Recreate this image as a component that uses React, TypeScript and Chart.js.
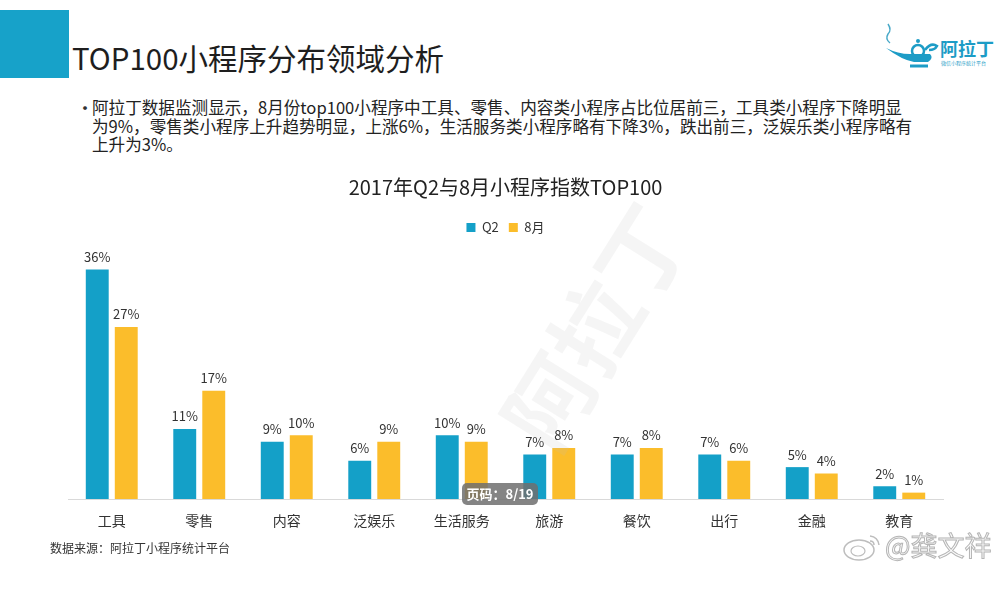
import React, { useEffect, useRef } from "react";
import { Chart, registerables } from "chart.js";

Chart.register(...registerables);

const categories = ["工具", "零售", "内容", "泛娱乐", "生活服务", "旅游", "餐饮", "出行", "金融", "教育"];
const q2Values = [36, 11, 9, 6, 10, 7, 7, 7, 5, 2];
const augValues = [27, 17, 10, 9, 9, 8, 8, 6, 4, 1];
const seriesNames = ["Q2", "8月"];
const chartTitle = "2017年Q2与8月小程序指数TOP100";
const pageTitle = "TOP100小程序分布领域分析";
const bulletLines = [
  "阿拉丁数据监测显示，8月份top100小程序中工具、零售、内容类小程序占比位居前三，工具类小程序下降明显",
  "为9%，零售类小程序上升趋势明显，上涨6%，生活服务类小程序略有下降3%，跌出前三，泛娱乐类小程序略有",
  "上升为3%。",
];
const sourceNote = "数据来源：阿拉丁小程序统计平台";

const BLUE = "#14a0c8";
const YELLOW = "#fbbd2b";
const FONT = '"Noto Sans CJK SC", "Noto Sans", sans-serif';

const valueLabels = {
  id: "valueLabels",
  afterDatasetsDraw(chart: any) {
    const ctx = chart.ctx;
    ctx.save();
    ctx.font = `13px ${FONT}`;
    ctx.fillStyle = "#333";
    ctx.textAlign = "center";
    ctx.textBaseline = "bottom";
    chart.data.datasets.forEach((ds: any, di: number) => {
      const meta = chart.getDatasetMeta(di);
      meta.data.forEach((bar: any, i: number) => {
        ctx.fillText(`${ds.data[i]}%`, bar.x, bar.y - 6);
      });
    });
    ctx.restore();
  },
};

export default function App() {
  const ref = useRef<HTMLCanvasElement>(null);
  useEffect(() => {
    const chart = new Chart(ref.current!, {
      type: "bar",
      data: {
        labels: categories,
        datasets: [
          { label: seriesNames[0], data: q2Values, backgroundColor: BLUE },
          { label: seriesNames[1], data: augValues, backgroundColor: YELLOW },
        ],
      },
      options: {
        animation: false,
        responsive: false,
        maintainAspectRatio: false,
        layout: { padding: { top: 160, left: 68, right: 57, bottom: 0 } },
        datasets: { bar: { categoryPercentage: 0.663, barPercentage: 0.79 } },
        plugins: {
          title: {
            display: true,
            text: chartTitle,
            color: "#222",
            font: { family: FONT, size: 20, weight: "normal" },
            padding: { top: 15, bottom: 12 },
          },
          legend: {
            display: true,
            labels: {
              boxWidth: 9,
              boxHeight: 9,
              padding: 10,
              color: "#333",
              font: { family: FONT, size: 13 },
            },
          },
          tooltip: { enabled: false },
        },
        scales: {
          x: {
            grid: { display: false },
            border: { display: true, color: "#d9d9d9", width: 1 },
            ticks: { color: "#333", font: { family: FONT, size: 14 }, padding: 5 },
            afterFit: (s: any) => {
              s.height = 101;
            },
          },
          y: { display: false, min: 0, max: 40 },
        },
      },
      plugins: [valueLabels],
    });
    return () => chart.destroy();
  }, []);

  return (
    <div
      style={{
        position: "absolute",
        left: 0,
        top: 0,
        width: 1000,
        height: 600,
        background: "#fff",
        overflow: "hidden",
        fontFamily: FONT,
      }}
    >
      <div style={{ position: "absolute", left: 0, top: 10, width: 69, height: 68, background: "#17a2c9" }} />
      <div
        style={{
          position: "absolute",
          left: 72,
          top: 37,
          fontSize: 29.5,
          lineHeight: "40px",
          color: "#1e1e1e",
          whiteSpace: "nowrap",
        }}
      >
        {pageTitle}
      </div>
      {/* logo */}
      <svg style={{ position: "absolute", left: 884, top: 20 }} width={60} height={52} viewBox="0 0 60 52">
        <path d="M4 4 q4 6 0 10 q-3 5 2 9" stroke="#49a9c8" strokeWidth={1.5} fill="none" />
        <path d="M2 28 Q18 40 30 42 L44 42 Q50 38 46 34 L26 34 Q14 34 2 28 Z" fill="#1d9cc6" />
        <circle cx={34} cy={31} r={6} fill="none" stroke="#1d9cc6" strokeWidth={2.5} />
        <circle cx={34} cy={21} r={2} fill="#1d9cc6" />
        <path d="M41 30 q6 -8 12 -4 q-2 4 -8 4" stroke="#1d9cc6" strokeWidth={2.5} fill="none" />
        <path d="M26 46 L44 46" stroke="#1d9cc6" strokeWidth={3} />
      </svg>
      <div
        style={{
          position: "absolute",
          left: 940,
          top: 37,
          fontSize: 18,
          fontWeight: "bold",
          color: "#1d9cc6",
          lineHeight: "22px",
          whiteSpace: "nowrap",
        }}
      >
        阿拉丁
      </div>
      <div
        style={{
          position: "absolute",
          left: 941,
          top: 59,
          fontSize: 5,
          color: "#1d9cc6",
          lineHeight: "7px",
          whiteSpace: "nowrap",
        }}
      >
        微信小程序统计平台
      </div>
      {/* bullet text */}
      <div style={{ position: "absolute", left: 76, top: 98, fontSize: 18, color: "#333", lineHeight: "18px" }}>•</div>
      <div
        style={{
          position: "absolute",
          left: 92,
          top: 98,
          fontSize: 16.6,
          lineHeight: "18.5px",
          color: "#222",
          whiteSpace: "nowrap",
        }}
      >
        {bulletLines.map((l, i) => (
          <div key={i}>{l}</div>
        ))}
      </div>
      <canvas ref={ref} width={1000} height={600} style={{ position: "absolute", left: 0, top: 0 }} />
      {/* background watermark */}
      <div
        style={{
          position: "absolute",
          left: 460,
          top: 280,
          fontSize: 88,
          fontWeight: "bold",
          color: "rgba(190,190,190,0.16)",
          transform: "rotate(-58deg)",
          transformOrigin: "center",
          whiteSpace: "nowrap",
          pointerEvents: "none",
          lineHeight: "90px",
        }}
      >
        阿拉丁
      </div>
      {/* page badge */}
      <div
        style={{
          position: "absolute",
          left: 462,
          top: 483,
          width: 76,
          height: 22,
          background: "rgba(110,110,110,0.85)",
          borderRadius: 5,
          color: "#fff",
          fontSize: 13,
          lineHeight: "22px",
          textAlign: "center",
          fontWeight: "bold",
        }}
      >
        页码：8/19
      </div>
      <div
        style={{
          position: "absolute",
          left: 50,
          top: 540,
          fontSize: 12,
          lineHeight: "16px",
          color: "#333",
          whiteSpace: "nowrap",
        }}
      >
        {sourceNote}
      </div>
      {/* weibo watermark */}
      <svg style={{ position: "absolute", left: 842, top: 530 }} width={42} height={32} viewBox="0 0 42 32">
        <ellipse cx={17} cy={20} rx={15} ry={10} fill="none" stroke="#bdbdbd" strokeWidth={1.5} />
        <ellipse cx={16} cy={21} rx={7} ry={5} fill="none" stroke="#bdbdbd" strokeWidth={1.2} />
        <path d="M28 6 q8 1 9 9" stroke="#bdbdbd" strokeWidth={1.5} fill="none" />
        <path d="M28 11 q4 0 4 4" stroke="#bdbdbd" strokeWidth={1.5} fill="none" />
      </svg>
      <div
        style={{
          position: "absolute",
          left: 885,
          top: 529,
          fontSize: 27,
          lineHeight: "32px",
          color: "#fafafa",
          WebkitTextStroke: "1px #b5b5b5",
          whiteSpace: "nowrap",
        }}
      >
        @龚文祥
      </div>
    </div>
  );
}
